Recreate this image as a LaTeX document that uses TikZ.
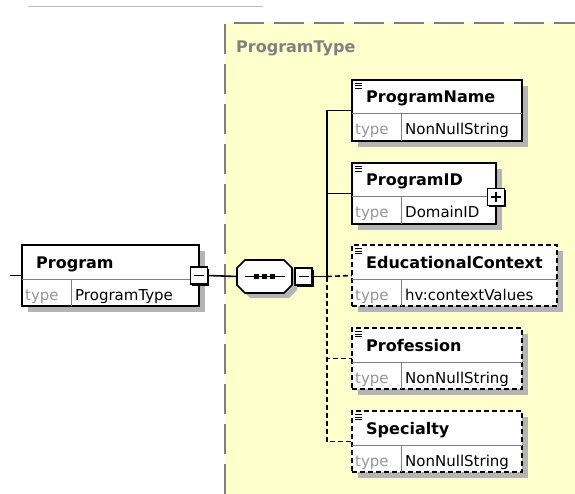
\documentclass[tikz,border=0pt]{standalone}
\usepackage{fontspec}
\setmainfont{DejaVu Sans}
\usetikzlibrary{positioning,shadows}

\definecolor{typefill}{RGB}{255,255,204}
\definecolor{framegray}{RGB}{128,128,128}
\definecolor{shadowgray}{RGB}{180,180,180}
\definecolor{keygray}{RGB}{150,150,150}

% inner cells and texts of one element box
\newcommand{\elemparts}[3]{%
  \draw[cellline] ([yshift=27pt]#1.south west) -- ([yshift=27pt]#1.south east);
  \draw[cellline] ([xshift=49pt]#1.south west) -- ([xshift=49pt,yshift=27pt]#1.south west);
  \node[elemname] (#1-name) at ([xshift=14pt,yshift=-23pt]#1.north west) {#2};
  \node[typekey] (#1-key) at ([xshift=3pt,yshift=6pt]#1.south west) {type};
  \node[typeval] (#1-val) at ([xshift=53pt,yshift=6pt]#1.south west) {#3};
}

\begin{document}
\begin{tikzpicture}[x=1pt,y=-1pt,
    elem/.style = {draw, rectangle, fill=white, line width=1.8pt, inner sep=0pt, outer sep=0pt,
      minimum height=61pt,
      drop shadow={shadow xshift=6pt, shadow yshift=-6pt, fill=shadowgray, opacity=1}},
    optelem/.style = {elem, line width=1.6pt, dash pattern=on 5pt off 3pt},
    cellline/.style = {draw=framegray, line width=1pt},
    docmark/.style = {line width=1pt},
    elemname/.style = {anchor=base west, inner sep=0pt, font=\fontsize{16pt}{18pt}\selectfont\bfseries},
    typekey/.style = {anchor=base west, inner sep=0pt, text=keygray, font=\fontsize{15pt}{17pt}\selectfont},
    typeval/.style = {anchor=base west, inner sep=0pt, font=\fontsize{15pt}{17pt}\selectfont},
    toggle/.style = {draw, rectangle, fill=white, line width=1.5pt, inner sep=0pt, outer sep=0pt,
      minimum size=17pt,
      drop shadow={shadow xshift=1.5pt, shadow yshift=-1.5pt, fill=black, opacity=1}},
    seqbox/.style = {rectangle, inner sep=0pt, outer sep=0pt, minimum width=55pt, minimum height=33pt},
    conn/.style = {line width=1.6pt},
    optconn/.style = {conn, dash pattern=on 5pt off 3pt}]
  \useasboundingbox (0,0) rectangle (575,494);
  % type area
  \draw[draw=black!25, line width=1pt] (28,7) -- (263,7);
  \fill[typefill] (225,23) rectangle (575,494);
  \draw[framegray, line width=1.3pt, dash pattern=on 30pt off 10pt] (225,494) -- (225,23) -- (575,23);
  \node[anchor=base west, inner sep=0pt, text=framegray, font=\fontsize{16pt}{18pt}\selectfont\bfseries]
    (ptlabel) at (236,53) {ProgramType};

  % elements
  \node[elem, minimum width=177pt] (prog) at (110.5,275.5) {};
  \node[elem, minimum width=170pt] (pname) at (437,110.5) {};
  \node[elem, minimum width=144pt, below=22pt of pname.south west, anchor=north west] (pid) {};
  \node[optelem, minimum width=205pt, below=21pt of pid.south west, anchor=north west] (educ) {};
  \node[optelem, minimum width=170pt, below=22pt of educ.south west, anchor=north west] (prof) {};
  \node[optelem, minimum width=170pt, below=22pt of prof.south west, anchor=north west] (spec) {};
  \elemparts{prog}{Program}{ProgramType}
  \elemparts{pname}{ProgramName}{NonNullString}
  \elemparts{pid}{ProgramID}{DomainID}
  \elemparts{educ}{EducationalContext}{hv:contextValues}
  \elemparts{prof}{Profession}{NonNullString}
  \elemparts{spec}{Specialty}{NonNullString}
  \foreach \e in {pname,pid,educ,prof,spec}
    \foreach \k in {3.5,6,8.5}
      \draw[docmark] ([xshift=3pt,yshift=-\k pt]\e.north west) -- ++(7pt,0pt);

  % sequence and toggles
  \node[toggle] (progminus) at (prog.east) {};
  \draw[conn] ([xshift=-5pt]progminus.center) -- ([xshift=5pt]progminus.center);
  \node[toggle] (pidplus) at ([yshift=-3.5pt]pid.east) {};
  \draw[conn] ([xshift=-5pt]pidplus.center) -- ([xshift=5pt]pidplus.center);
  \draw[conn] ([yshift=-5pt]pidplus.center) -- ([yshift=5pt]pidplus.center);
  \node[seqbox] (seq) at (264.5,276.5) {};
  \fill[shadowgray] ([xshift=13pt,yshift=-5pt]seq.north west) -- ++(39,0) -- ++(8,8) -- ++(0,17)
    -- ++(-8,8) -- ++(-39,0) -- ++(-8,-8) -- ++(0,-17) -- cycle;
  \draw[conn, fill=white] ([xshift=8pt]seq.north west) -- ++(39,0) -- ++(8,8) -- ++(0,17)
    -- ++(-8,8) -- ++(-39,0) -- ++(-8,-8) -- ++(0,-17) -- cycle;
  \draw[conn] ([xshift=-20pt]seq.center) -- ([xshift=20pt]seq.center);
  \foreach \d in {-8,0,8}
    \fill ([xshift=\d pt]seq.center) +(-2.5pt,-2.5pt) rectangle +(2.5pt,2.5pt);
  \node[toggle, right=3pt of seq] (seqminus) {};
  \draw[conn] ([xshift=-5pt]seqminus.center) -- ([xshift=5pt]seqminus.center);
  \coordinate (progin) at ([xshift=-12pt]prog.west);
  \coordinate (fork) at ([xshift=15pt]seqminus.east);

  % connectors
  \draw[conn] (progin) -- (prog.west);
  \draw[conn] (progminus.east) -- (seq.west);
  \draw[conn] (seqminus.east) -- (fork);
  \draw[conn] (fork) |- (pname.west);
  \draw[conn] (fork) |- (pid.west);
  \draw[optconn] (fork) -- (educ.west);
  \draw[optconn] (fork) |- (prof.west);
  \draw[optconn] (fork) |- (spec.west);
\end{tikzpicture}
\end{document}
